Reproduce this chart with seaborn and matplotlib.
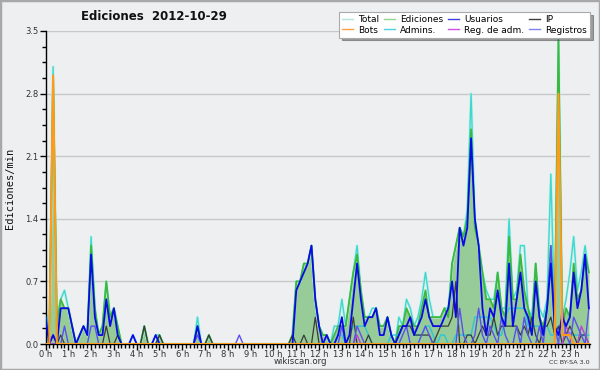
import matplotlib
matplotlib.use("Agg")
import matplotlib.pyplot as plt
import numpy as np
import seaborn as sns
from matplotlib.lines import Line2D
from matplotlib.patches import Rectangle
from matplotlib.ticker import FixedLocator, MultipleLocator

# one value per 10-minute slot, 0:00 .. 23:50 (edits per minute)
SLOTS = np.arange(144)

HOUR_LABELS = ["0 h", "1 h", "2 h", "3 h", "4 h", "5 h", "6 h", "7 h", "8 h", "9 h", "10 h", "11 h",
               "12 h", "13 h", "14 h", "15 h", "16 h", "17 h", "18 h", "19 h", "20 h", "21 h", "22 h", "23 h"]
Y_TICKS = [0.0, 0.7, 1.4, 2.1, 2.8, 3.5]

TOTAL = [
    0.4, 0.1, 3.1, 0.3, 0.5, 0.6, 0.4, 0.2, 0.0, 0.1, 0.2, 0.1,
    1.2, 0.4, 0.1, 0.2, 0.7, 0.3, 0.4, 0.2, 0.0, 0.0, 0.0, 0.1,
    0.0, 0.0, 0.2, 0.0, 0.0, 0.1, 0.1, 0.0, 0.0, 0.0, 0.0, 0.0,
    0.0, 0.0, 0.0, 0.0, 0.3, 0.0, 0.0, 0.1, 0.0, 0.0, 0.0, 0.0,
    0.0, 0.0, 0.0, 0.0, 0.0, 0.0, 0.0, 0.0, 0.0, 0.0, 0.0, 0.0,
    0.0, 0.0, 0.0, 0.0, 0.0, 0.1, 0.7, 0.7, 0.9, 0.9, 1.1, 0.5,
    0.2, 0.1, 0.1, 0.0, 0.2, 0.2, 0.5, 0.2, 0.5, 0.8, 1.1, 0.6,
    0.3, 0.3, 0.4, 0.4, 0.2, 0.2, 0.3, 0.1, 0.0, 0.3, 0.2, 0.5,
    0.4, 0.2, 0.3, 0.5, 0.8, 0.5, 0.3, 0.3, 0.3, 0.4, 0.4, 0.9,
    1.1, 1.3, 1.2, 1.5, 2.8, 1.4, 1.1, 0.8, 0.6, 0.5, 0.5, 0.8,
    0.4, 0.4, 1.4, 0.5, 0.6, 1.1, 1.1, 0.4, 0.3, 0.9, 0.4, 0.3,
    0.5, 1.9, 0.3, 3.4, 0.3, 0.5, 0.8, 1.2, 0.6, 0.8, 1.1, 0.8,
]
EDICIONES = [
    0.3, 0.1, 3.0, 0.2, 0.5, 0.4, 0.4, 0.2, 0.0, 0.1, 0.2, 0.1,
    1.1, 0.4, 0.1, 0.2, 0.7, 0.3, 0.4, 0.2, 0.0, 0.0, 0.0, 0.0,
    0.0, 0.0, 0.2, 0.0, 0.0, 0.0, 0.1, 0.0, 0.0, 0.0, 0.0, 0.0,
    0.0, 0.0, 0.0, 0.0, 0.2, 0.0, 0.0, 0.1, 0.0, 0.0, 0.0, 0.0,
    0.0, 0.0, 0.0, 0.0, 0.0, 0.0, 0.0, 0.0, 0.0, 0.0, 0.0, 0.0,
    0.0, 0.0, 0.0, 0.0, 0.0, 0.1, 0.7, 0.7, 0.9, 0.9, 1.1, 0.5,
    0.2, 0.1, 0.1, 0.0, 0.1, 0.2, 0.2, 0.2, 0.5, 0.8, 1.0, 0.6,
    0.3, 0.3, 0.3, 0.4, 0.2, 0.2, 0.3, 0.1, 0.0, 0.2, 0.2, 0.4,
    0.3, 0.2, 0.2, 0.4, 0.6, 0.3, 0.3, 0.3, 0.3, 0.4, 0.3, 0.9,
    1.1, 1.3, 1.2, 1.4, 2.4, 1.3, 1.1, 0.8, 0.5, 0.5, 0.4, 0.8,
    0.4, 0.3, 1.2, 0.5, 0.5, 1.0, 0.6, 0.4, 0.2, 0.9, 0.3, 0.2,
    0.4, 1.1, 0.2, 3.4, 0.2, 0.4, 0.3, 0.9, 0.5, 0.6, 1.0, 0.8,
]
USUARIOS = [
    0.3, 0.0, 0.1, 0.0, 0.4, 0.4, 0.4, 0.2, 0.0, 0.1, 0.2, 0.1,
    1.0, 0.3, 0.1, 0.1, 0.5, 0.2, 0.4, 0.1, 0.0, 0.0, 0.0, 0.1,
    0.0, 0.0, 0.0, 0.0, 0.0, 0.1, 0.0, 0.0, 0.0, 0.0, 0.0, 0.0,
    0.0, 0.0, 0.0, 0.0, 0.2, 0.0, 0.0, 0.0, 0.0, 0.0, 0.0, 0.0,
    0.0, 0.0, 0.0, 0.0, 0.0, 0.0, 0.0, 0.0, 0.0, 0.0, 0.0, 0.0,
    0.0, 0.0, 0.0, 0.0, 0.0, 0.0, 0.6, 0.7, 0.8, 0.9, 1.1, 0.5,
    0.2, 0.0, 0.1, 0.0, 0.0, 0.1, 0.3, 0.0, 0.1, 0.5, 0.9, 0.5,
    0.2, 0.3, 0.3, 0.4, 0.1, 0.1, 0.3, 0.1, 0.0, 0.1, 0.2, 0.2,
    0.3, 0.1, 0.2, 0.3, 0.5, 0.3, 0.2, 0.2, 0.2, 0.3, 0.4, 0.7,
    0.3, 1.3, 1.1, 1.3, 2.3, 1.4, 1.1, 0.4, 0.1, 0.4, 0.3, 0.6,
    0.3, 0.2, 0.9, 0.2, 0.5, 0.8, 0.4, 0.3, 0.1, 0.7, 0.3, 0.1,
    0.4, 0.9, 0.2, 0.1, 0.3, 0.2, 0.3, 0.8, 0.4, 0.6, 1.0, 0.4,
]
IP = [
    0.0, 0.0, 0.0, 0.0, 0.1, 0.0, 0.0, 0.0, 0.0, 0.0, 0.0, 0.0,
    0.0, 0.0, 0.0, 0.0, 0.2, 0.0, 0.0, 0.1, 0.0, 0.0, 0.0, 0.0,
    0.0, 0.0, 0.2, 0.0, 0.0, 0.0, 0.1, 0.0, 0.0, 0.0, 0.0, 0.0,
    0.0, 0.0, 0.0, 0.0, 0.0, 0.0, 0.0, 0.1, 0.0, 0.0, 0.0, 0.0,
    0.0, 0.0, 0.0, 0.0, 0.0, 0.0, 0.0, 0.0, 0.0, 0.0, 0.0, 0.0,
    0.0, 0.0, 0.0, 0.0, 0.0, 0.1, 0.0, 0.0, 0.1, 0.0, 0.0, 0.3,
    0.0, 0.0, 0.0, 0.0, 0.0, 0.0, 0.0, 0.0, 0.0, 0.3, 0.0, 0.0,
    0.0, 0.1, 0.0, 0.0, 0.0, 0.0, 0.0, 0.0, 0.0, 0.1, 0.2, 0.2,
    0.2, 0.1, 0.1, 0.1, 0.1, 0.1, 0.0, 0.1, 0.2, 0.2, 0.2, 0.3,
    0.7, 0.0, 0.0, 0.1, 0.1, 0.0, 0.1, 0.2, 0.1, 0.1, 0.3, 0.1,
    0.2, 0.2, 0.2, 0.2, 0.2, 0.1, 0.2, 0.1, 0.3, 0.1, 0.0, 0.2,
    0.2, 0.3, 0.1, 0.2, 0.0, 0.1, 0.2, 0.1, 0.0, 0.1, 0.1, 0.0,
]
BOTS = [
    0, 0, 3.0, 0, 0, 0, 0, 0, 0, 0, 0, 0,
    0, 0, 0, 0, 0, 0, 0, 0, 0, 0, 0, 0,
    0, 0, 0, 0, 0, 0, 0, 0, 0, 0, 0, 0,
    0, 0, 0, 0, 0, 0, 0, 0, 0, 0, 0, 0,
    0, 0, 0, 0, 0, 0, 0, 0, 0, 0, 0, 0,
    0, 0, 0, 0, 0, 0, 0, 0, 0, 0, 0, 0,
    0, 0, 0, 0, 0, 0, 0, 0, 0, 0, 0, 0,
    0, 0, 0, 0, 0, 0, 0, 0, 0, 0, 0, 0,
    0, 0, 0, 0, 0, 0, 0, 0, 0, 0, 0, 0,
    0, 0, 0, 0, 0, 0, 0, 0, 0, 0, 0, 0,
    0, 0, 0, 0, 0, 0, 0, 0, 0, 0, 0, 0,
    0, 0, 0, 2.8, 0.1, 0.1, 0.1, 0, 0, 0, 0, 0,
]
ADMINS = [
    0, 0, 0, 0, 0, 0, 0, 0, 0, 0, 0, 0,
    0, 0, 0, 0, 0, 0, 0, 0, 0, 0, 0, 0,
    0, 0, 0, 0, 0, 0, 0, 0, 0, 0, 0, 0,
    0, 0, 0, 0, 0, 0, 0, 0, 0, 0, 0, 0,
    0, 0, 0, 0, 0, 0, 0, 0, 0, 0, 0, 0,
    0, 0, 0, 0, 0, 0, 0, 0, 0, 0, 0, 0,
    0, 0, 0, 0, 0, 0.1, 0.1, 0, 0.1, 0.2, 0.2, 0.2,
    0.2, 0.1, 0, 0, 0, 0, 0, 0.1, 0.1, 0.1, 0.2, 0.2,
    0.2, 0.1, 0.1, 0.1, 0.2, 0.2, 0.1, 0, 0.1, 0.1, 0, 0,
    0.1, 0.1, 0.1, 0.1, 0.1, 0.3, 0.3, 0.3, 0.3, 0.3, 0.2, 0.1,
    0.1, 0.3, 0.4, 0.4, 0.4, 0.4, 0.4, 0.2, 0.2, 0.2, 0.2, 0.2,
    0.2, 0.1, 0.1, 0.1, 0.1, 0.1, 0.1, 0.1, 0.1, 0.1, 0.1, 0.1,
]
REG_ADM = [
    0, 0, 0, 0, 0, 0, 0, 0, 0, 0, 0, 0,
    0, 0, 0, 0, 0, 0, 0, 0, 0, 0, 0, 0,
    0, 0, 0, 0, 0, 0, 0, 0, 0, 0, 0, 0,
    0, 0, 0, 0, 0, 0, 0, 0, 0, 0, 0, 0,
    0, 0, 0, 0, 0, 0, 0, 0, 0, 0, 0, 0,
    0, 0, 0, 0, 0, 0, 0, 0, 0, 0, 0, 0,
    0, 0, 0, 0, 0, 0, 0, 0, 0, 0, 0.1, 0,
    0, 0, 0, 0, 0, 0, 0, 0, 0, 0, 0, 0,
    0, 0, 0, 0, 0, 0, 0, 0, 0, 0, 0, 0,
    0, 0, 0, 0, 0, 0, 0, 0, 0, 0, 0, 0,
    0, 0, 0, 0, 0, 0, 0, 0, 0, 0, 0, 0,
    0, 0, 0, 0, 0, 0.2, 0.1, 0, 0, 0.2, 0.1, 0,
]
REGISTROS = [
    0, 0, 0.1, 0, 0, 0.2, 0, 0, 0, 0, 0, 0,
    0.2, 0.2, 0, 0, 0, 0, 0, 0, 0, 0, 0, 0,
    0, 0, 0, 0, 0, 0, 0, 0, 0, 0, 0, 0,
    0, 0, 0, 0, 0.1, 0, 0, 0, 0, 0, 0, 0,
    0, 0, 0, 0.1, 0, 0, 0, 0, 0, 0, 0, 0,
    0, 0, 0, 0, 0, 0, 0, 0, 0, 0, 0, 0,
    0, 0, 0, 0, 0, 0, 0.2, 0, 0, 0, 0.2, 0.1,
    0, 0, 0, 0, 0, 0, 0, 0, 0, 0, 0.1, 0.2,
    0, 0, 0, 0.1, 0.2, 0.1, 0, 0, 0, 0, 0, 0,
    0, 0.4, 0.1, 0, 0, 0.1, 0.4, 0.1, 0, 0.2, 0.1, 0,
    0.3, 0.1, 0, 0, 0.2, 0, 0.3, 0.1, 0, 0, 0.2, 0,
    0.4, 1.1, 0.2, 0, 0.4, 0.1, 0, 0.3, 0.2, 0.1, 0, 0.4,
]

BG = "#eeeff1"


def draw_line(ax, values, color, lw, z):
    sns.lineplot(x=SLOTS, y=values, ax=ax, color=color, linewidth=lw, zorder=z, legend=False)


def main() -> None:
    fig = plt.figure(figsize=(6, 3.7), dpi=100, facecolor=BG)
    ax = fig.add_axes([45.5 / 600, 26 / 370, 544.5 / 600, 313 / 370])
    ax.set_facecolor(BG)

    ax.fill_between(SLOTS, EDICIONES, color="#97cb97", linewidth=0, zorder=1)
    draw_line(ax, TOTAL, "#c6efea", 2.0, 2)
    draw_line(ax, TOTAL, "#3fd8cf", 1.0, 2.1)
    draw_line(ax, EDICIONES, "#3cb93c", 1.3, 3)
    draw_line(ax, ADMINS, "#2cc6d6", 1.0, 3.5)
    draw_line(ax, IP, "#3a3a3a", 0.9, 4)
    draw_line(ax, REG_ADM, "#c040d8", 1.0, 4.2)
    draw_line(ax, REGISTROS, "#5a50f0", 1.0, 4.4)
    draw_line(ax, USUARIOS, "#0a0ae6", 1.3, 5)
    draw_line(ax, BOTS, "#ff9a1a", 1.5, 6)

    ax.set_xlim(0, 143.3)
    ax.set_ylim(0, 3.5)
    ax.set_xlabel("")
    ax.set_ylabel("")

    ax.xaxis.set_major_locator(FixedLocator(list(range(0, 144, 6))))
    ax.set_xticklabels(HOUR_LABELS)
    ax.xaxis.set_minor_locator(MultipleLocator(1))
    ax.set_yticks(Y_TICKS)
    ax.set_yticklabels([f"{v:.1f}" for v in Y_TICKS])
    ax.yaxis.set_minor_locator(MultipleLocator(0.175))
    ax.tick_params(which="major", direction="out", length=4, width=1, color="black",
                   labelsize=6, labelcolor="#333333", pad=1)
    ax.tick_params(axis="x", which="major", pad=0)
    ax.tick_params(which="minor", direction="out", length=3, width=1, color="black")

    ax.grid(axis="y", which="major", color="#c8c8c8", linewidth=1, zorder=0)
    ax.set_axisbelow(True)
    for side in ("top", "right"):
        ax.spines[side].set_visible(False)
    for side in ("left", "bottom"):
        ax.spines[side].set_color("black")
        ax.spines[side].set_linewidth(1)

    fig.text(154 / 600, 1 - 16.5 / 370, "Ediciones  2012-10-29", ha="center", va="center",
             fontsize=8.5, fontweight="bold", color="#111111")
    fig.text(10 / 600, 0.49, "Ediciones/min", rotation=90, ha="center", va="center",
             fontsize=7.5, family="DejaVu Sans Mono", color="#111111")
    fig.text(0.5, 1 - 362 / 370, "wikiscan.org", ha="center", va="center",
             fontsize=6.2, color="#333333")
    fig.text(569 / 600, 1 - 362 / 370, "CC BY-SA 3.0", ha="center", va="center",
             fontsize=4.6, color="#333333")

    labels = ["Total", "Bots", "Ediciones", "Admins.", "Usuarios", "Reg. de adm.", "IP", "Registros"]
    colors = ["#b0e6e0", "#ffa040", "#90d890", "#50d0dc", "#4040e0", "#d050e0", "#404040", "#8080f0"]
    handles = [Line2D([], [], color=c, linewidth=1.0) for c in colors]
    leg = fig.legend(handles, labels, ncol=4, loc="upper right",
                     bbox_to_anchor=(590 / 600, 1 - 12 / 370), frameon=True, fancybox=False,
                     shadow=True, fontsize=6.5, handlelength=1.2, handletextpad=0.6,
                     columnspacing=0.5, labelspacing=0.15, borderpad=0.35, borderaxespad=0)
    leg.get_frame().set_facecolor("white")
    leg.get_frame().set_edgecolor("#aaaaaa")
    leg.get_frame().set_linewidth(0.8)
    leg.get_frame().set_alpha(1)

    fig.patches.append(Rectangle((0, 0), 1, 1, transform=fig.transFigure, fill=False,
                                 edgecolor="#a8a8a8", linewidth=2.5))

    fig.savefig("out.png", dpi=100, facecolor=BG)
    plt.close(fig)


if __name__ == "__main__":
    main()
